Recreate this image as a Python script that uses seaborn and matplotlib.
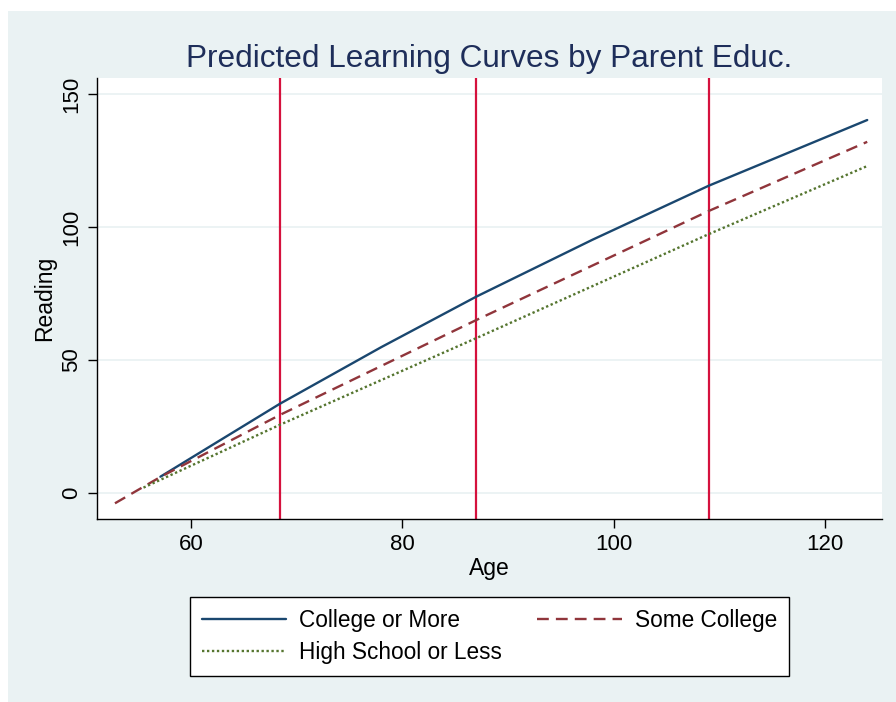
import matplotlib
matplotlib.use('Agg')
import matplotlib.pyplot as plt
import pandas as pd
import seaborn as sns
from matplotlib.patches import Rectangle

# значения
college_age = [57.1, 68.4, 78, 87, 98, 109, 124]
college_read = [6.1, 33.5, 54.8, 73.8, 95.2, 115.5, 140.2]

some_age = [52.8, 57.1, 68.4, 87, 109, 124]
some_read = [-3.9, 6.0, 29.3, 65.0, 106.0, 132.0]

hs_age = [55.5, 68.4, 87, 109, 124]
hs_read = [2.0, 25.6, 58.2, 97.3, 122.9]

vlines_age = [68.4, 87, 109]

x_ticks = [60, 80, 100, 120]
y_ticks = [0, 50, 100, 150]

bg = '#EAF2F3'

sns.set_theme(style='white')
plt.rcParams['font.family'] = ['Liberation Sans', 'DejaVu Sans']
plt.rcParams['text.color'] = 'black'

fig = plt.figure(figsize=(8.96, 7.02), dpi=100)
fig.patch.set_facecolor('white')
fig.patches.append(Rectangle((8 / 896, 0), 1 - 8 / 896, (702 - 11) / 702,
                             transform=fig.transFigure, facecolor=bg,
                             edgecolor='none', zorder=-10))

ax = fig.add_axes([97 / 896, 1 - 519 / 702, (882 - 97) / 896, (519 - 78) / 702])
ax.set_facecolor('white')

for yt in y_ticks:
    ax.axhline(yt, color=bg, lw=1.3, zorder=0)

for xv in vlines_age:
    ax.axvline(xv, color='#D5113D', lw=1.6, zorder=1)

df_c = pd.DataFrame({'Age': college_age, 'Reading': college_read})
df_s = pd.DataFrame({'Age': some_age, 'Reading': some_read})
df_h = pd.DataFrame({'Age': hs_age, 'Reading': hs_read})

sns.lineplot(data=df_c, x='Age', y='Reading', ax=ax, color='#1A476F', lw=1.7,
             label='College or More', zorder=3)
sns.lineplot(data=df_s, x='Age', y='Reading', ax=ax, color='#90353B', lw=1.7,
             label='Some College', zorder=3)
sns.lineplot(data=df_h, x='Age', y='Reading', ax=ax, color='#55752F', lw=1.7,
             label='High School or Less', zorder=3)
ax.lines[-2].set_dashes([5.0, 3.0])
ax.lines[-1].set_dashes([1.0, 1.1])

ax.set_xlim(51.1, 125.4)
ax.set_ylim(-9.8, 156)
ax.set_xticks(x_ticks)
ax.set_yticks(y_ticks)
ax.tick_params(axis='both', which='major', direction='out', length=6.5, width=1,
               color='black', labelcolor='black', labelsize=16, pad=4,
               left=True, bottom=True)
plt.setp(ax.get_yticklabels(), rotation=90, va='center')

for s in ['top', 'right']:
    ax.spines[s].set_visible(False)
for s in ['left', 'bottom']:
    ax.spines[s].set_color('black')
    ax.spines[s].set_linewidth(1)

ax.set_xlabel('Age', fontsize=16.5, labelpad=2, color='black')
ax.set_ylabel('Reading', fontsize=16.5, labelpad=4, color='black')
ax.set_title('Predicted Learning Curves by Parent Educ.', fontsize=22.7,
             color='#1E2E5A', pad=8)

handles, labels = ax.get_legend_handles_labels()
order = [0, 2, 1]
ax.get_legend().remove()
leg = fig.legend([handles[i] for i in order], [labels[i] for i in order],
                 ncol=2, loc='center', bbox_to_anchor=(489.5 / 896, 1 - 636.5 / 702),
                 fontsize=16.3, frameon=True, fancybox=False, framealpha=1,
                 edgecolor='black', facecolor='white', handlelength=3.75,
                 handletextpad=0.57, columnspacing=1.55, labelspacing=0.42,
                 borderpad=0.5, labelcolor='black')
leg.get_frame().set_linewidth(1)

fig.savefig('out.png', dpi=100, facecolor=fig.get_facecolor())
